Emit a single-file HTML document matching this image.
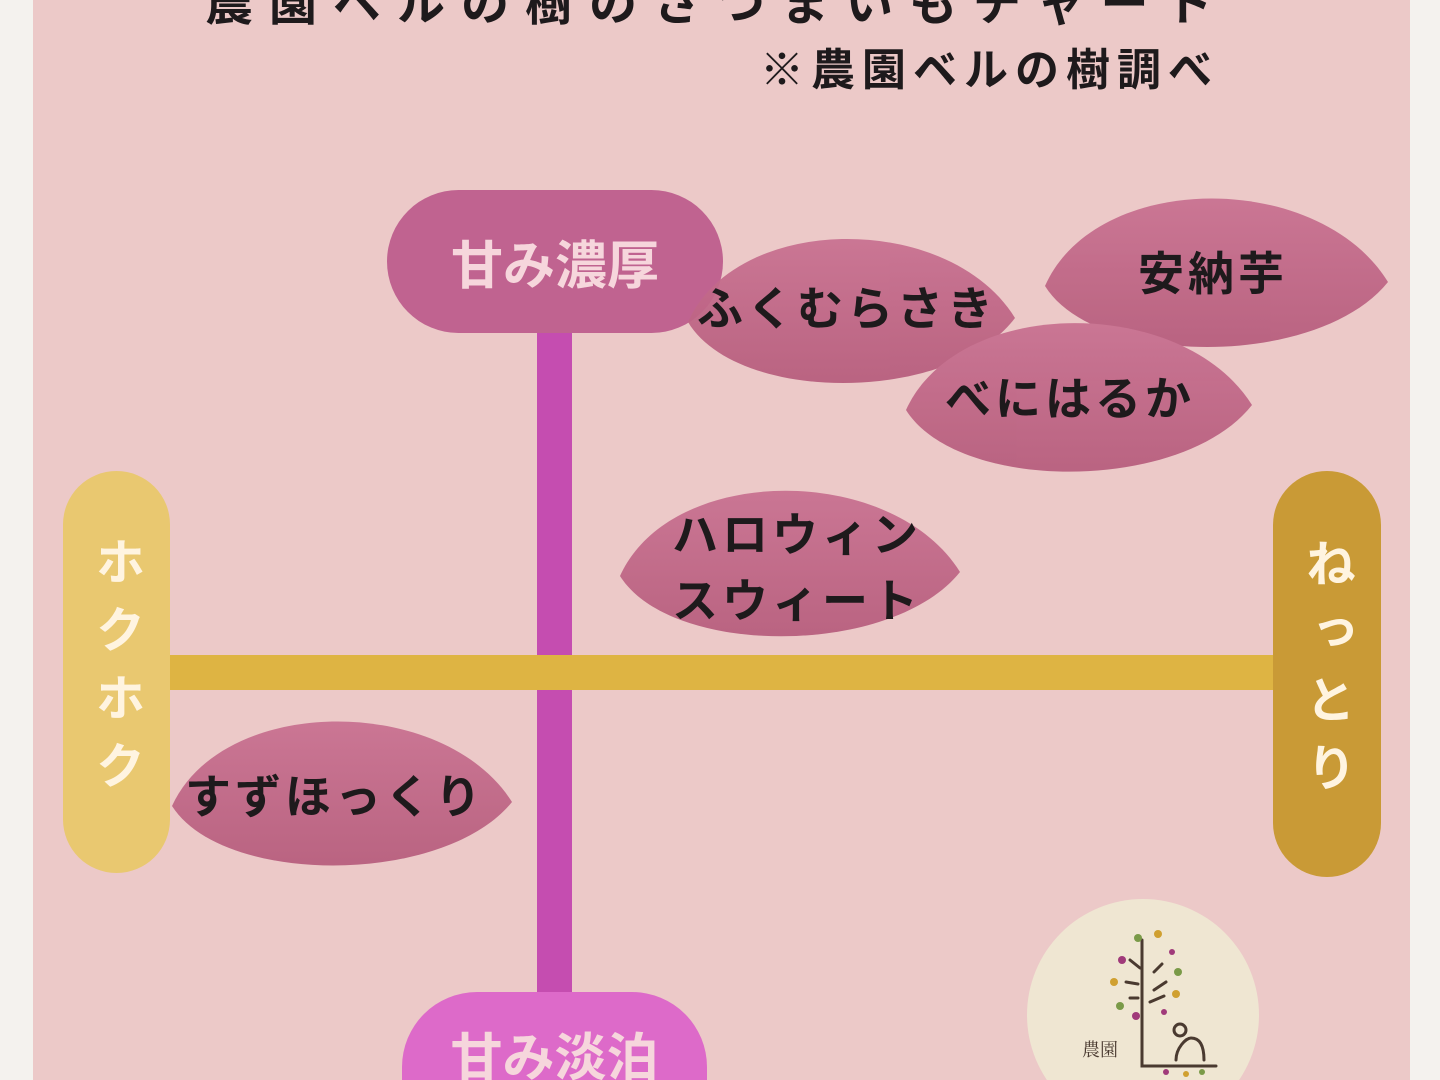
<!DOCTYPE html>
<html style="margin:0;width:1440px;height:1080px;overflow:hidden"><head><meta charset="utf-8"><style>
body{margin:0;width:1440px;height:1080px;overflow:hidden;position:relative;background:#f4f2ee;font-family:"Liberation Sans","Noto Sans CJK JP",sans-serif;}
.wrap{position:absolute;left:0;top:0;width:1440px;height:1080px;overflow:hidden;}
.card{position:absolute;left:33px;top:0;width:1377px;height:1080px;background:#ecc9c8;}
.a{position:absolute;}
.pill{position:absolute;display:flex;align-items:center;justify-content:center;color:#f6d6dc;font-weight:bold;}
.lbl{position:absolute;font-weight:bold;color:#1e1a1c;font-size:46px;letter-spacing:4px;white-space:nowrap;line-height:1.3;}
.vt{writing-mode:vertical-rl;font-size:50px;letter-spacing:18px;}
</style></head><body><div class="wrap">
<div class="card"></div>
<div class="a" style="left:205px;top:-36px;font-size:48px;font-weight:bold;color:#1e1a1c;letter-spacing:16px;white-space:nowrap">農園ベルの樹のさつまいもチャート</div>
<div class="a" style="left:760px;top:34px;font-size:44px;font-weight:bold;color:#1e1a1c;letter-spacing:7px;white-space:nowrap">※農園ベルの樹調べ</div>

<div class="a" style="left:537px;top:330px;width:35px;height:662px;background:#c54db0"></div>
<div class="a" style="left:165px;top:655px;width:1112px;height:35px;background:#deb443"></div>

<div class="pill" style="left:387px;top:190px;width:336px;height:143px;border-radius:72px;background:#c06390;font-size:52px">甘み濃厚</div>
<div class="pill" style="left:402px;top:992px;width:305px;height:88px;border-radius:75px 75px 0 0;background:#dd6ac9;font-size:52px;align-items:flex-start;overflow:hidden"><span style="margin-top:36px;line-height:1.2">甘み淡泊</span></div>
<div class="pill vt" style="left:63px;top:471px;width:107px;height:402px;border-radius:54px;background:#e9c870;color:#fff4e0">ホクホク</div>
<div class="pill vt" style="left:1273px;top:471px;width:108px;height:406px;border-radius:54px;background:#c99a36;color:#fff4e0">ねっとり</div>

<svg class="a" style="left:0;top:0" width="1440" height="1080">
<defs><linearGradient id="g" x1="0" y1="0" x2="0" y2="1"><stop offset="0" stop-color="#c87090"/><stop offset="1" stop-color="#b65c7c"/></linearGradient></defs>
<g fill="url(#g)" opacity="0.93">
<path d="M688,322 C737,212 950,212 1015,318 C950,404 737,404 688,322Z"/>
<path d="M1045,286 C1096,170 1319,170 1388,282 C1319,368 1096,368 1045,286Z"/>
<path d="M906,410 C958,295 1183,295 1252,405 C1183,493 958,493 906,410Z"/>
<path d="M620,576 C671,463 892,463 960,572 C892,657 671,657 620,576Z"/>
<path d="M172,806 C223,694 444,694 512,802 C444,886 223,886 172,806Z"/>
</g>
</svg>

<div class="lbl" style="left:697px;top:280px">ふくむらさき</div>
<div class="lbl" style="left:1138px;top:245px">安納芋</div>
<div class="lbl" style="left:945px;top:370px">べにはるか</div>
<div class="lbl" style="left:672px;top:502px;line-height:66px">ハロウィン<br>スウィート</div>
<div class="lbl" style="left:185px;top:768px">すずほっくり</div>

<svg class="a" style="left:1026px;top:898px" width="234" height="182">
<circle cx="117" cy="117" r="116" fill="#efe6d2"/>
<g stroke="#4a3a30" stroke-width="3" fill="none" stroke-linecap="round">
<path d="M116,42 V168 H190"/>
<path d="M104,62 L114,70 M128,74 L136,66 M100,84 L112,86 M128,92 L140,84 M104,100 L112,100 M124,104 L138,98"/>
<path d="M150,162 C150,150 160,140 165,140 C175,140 178,150 178,162"/>
<circle cx="154" cy="132" r="6"/>
</g>
<g>
<circle cx="112" cy="40" r="4" fill="#7a9a48"/><circle cx="132" cy="36" r="4" fill="#d0a030"/>
<circle cx="96" cy="62" r="4" fill="#a03a7a"/><circle cx="146" cy="54" r="3" fill="#a03a7a"/>
<circle cx="88" cy="84" r="4" fill="#d0a030"/><circle cx="152" cy="74" r="4" fill="#7a9a48"/>
<circle cx="150" cy="96" r="4" fill="#d0a030"/><circle cx="94" cy="108" r="4" fill="#7a9a48"/>
<circle cx="110" cy="118" r="4" fill="#a03a7a"/><circle cx="138" cy="114" r="3" fill="#a03a7a"/>
<circle cx="140" cy="174" r="3" fill="#a03a7a"/><circle cx="160" cy="176" r="3" fill="#d0a030"/><circle cx="176" cy="174" r="3" fill="#7a9a48"/>
</g>
<text x="56" y="158" font-size="18" fill="#4a3a30" font-family="Noto Serif CJK SC,serif">農園</text>
</svg>
</div></body></html>
